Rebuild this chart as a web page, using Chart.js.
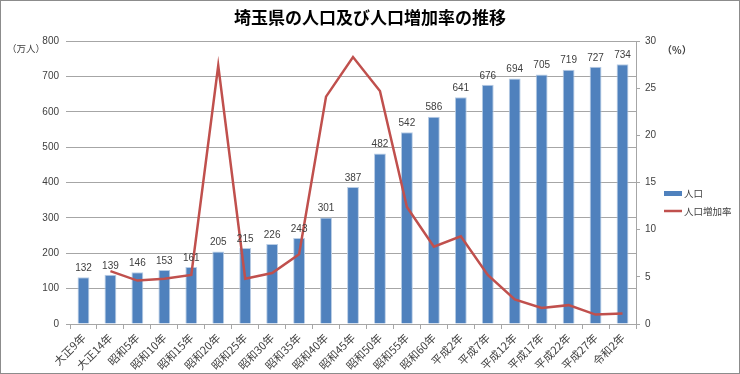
<!DOCTYPE html>
<html>
<head>
<meta charset="utf-8">
<script src="https://cdn.jsdelivr.net/npm/chart.js@4/dist/chart.umd.min.js"></script>
<style>
  html, body { margin: 0; padding: 0; background: #fff; }
  #wrap { width: 740px; height: 374px; }
</style>
</head>
<body>
<div id="wrap"><canvas id="chart" width="740" height="374"></canvas></div>
<script>
const years = ['大正9年', '大正14年', '昭和5年', '昭和10年', '昭和15年', '昭和20年', '昭和25年',
  '昭和30年', '昭和35年', '昭和40年', '昭和45年', '昭和50年', '昭和55年', '昭和60年',
  '平成2年', '平成7年', '平成12年', '平成17年', '平成22年', '平成27年', '令和2年'];
const population = [132, 139, 146, 153, 161, 205, 215, 226, 243, 301, 387, 482, 542, 586, 641, 676, 694, 705, 719, 727, 734];
const growthRate = [null, 5.6, 4.6, 4.8, 5.2, 27.4, 4.8, 5.4, 7.4, 24.1, 28.3, 24.7, 12.4, 8.2, 9.3, 5.2, 2.6, 1.7, 2.0, 1.0, 1.1];
const popTicks = [0, 800, 100];
const rateTicks = [0, 30, 5];

const FONT = "'Liberation Sans', 'Noto Sans CJK JP', sans-serif";
const JP = "'Noto Sans CJK JP', sans-serif";
const BLUE = '#4F81BD';
const RED = '#C0504D';
const GRID = '#a6a6a6';
const TEXT = '#404040';

// title, units, legend, bar value labels, outer frame
const extras = {
  id: 'extras',
  beforeDraw(chart) {
    const { ctx } = chart;
    ctx.save();
    ctx.fillStyle = '#fff';
    ctx.fillRect(0, 0, chart.width, chart.height);
    ctx.restore();
  },
  afterDatasetsDraw(chart) {
    const { ctx } = chart;
    ctx.save();
    // bar labels
    ctx.font = '10px ' + FONT;
    ctx.fillStyle = TEXT;
    ctx.textAlign = 'center';
    ctx.textBaseline = 'bottom';
    chart.getDatasetMeta(1).data.forEach((bar, i) => {
      ctx.fillText(String(population[i]), bar.x, bar.y - 4);
    });

    // title
    ctx.font = 'bold 17px ' + JP;
    ctx.fillStyle = '#000';
    ctx.textBaseline = 'middle';
    ctx.fillText('埼玉県の人口及び人口増加率の推移', 370, 18);

    // units
    ctx.font = '9.5px ' + JP;
    ctx.fillStyle = TEXT;
    ctx.textAlign = 'left';
    ctx.fillText('（万人）', 7, 48);
    ctx.font = 'bold 10px ' + JP;
    ctx.fillText('（%）', 662, 50);

    // legend
    ctx.fillStyle = BLUE;
    ctx.fillRect(664, 191, 18, 5);
    ctx.strokeStyle = RED;
    ctx.lineWidth = 2.5;
    ctx.beginPath();
    ctx.moveTo(664, 211);
    ctx.lineTo(682, 211);
    ctx.stroke();
    ctx.font = '9.5px ' + JP;
    ctx.fillStyle = TEXT;
    ctx.fillText('人口', 684, 193.5);
    ctx.fillText('人口増加率', 684, 211);

    // frame
    ctx.strokeStyle = '#8c8c8c';
    ctx.lineWidth = 1;
    ctx.strokeRect(0.5, 0.5, chart.width - 1, chart.height - 1);
    ctx.restore();
  }
};

new Chart(document.getElementById('chart'), {
  data: {
    labels: years,
    datasets: [
      {
        type: 'line', label: '人口増加率', data: growthRate, yAxisID: 'y1',
        borderColor: RED, borderWidth: 2.5, pointRadius: 0, tension: 0, spanGaps: false, order: 0
      },
      {
        type: 'bar', label: '人口', data: population, yAxisID: 'y',
        backgroundColor: BLUE, borderColor: '#b9cde5', borderWidth: 1,
        barPercentage: 0.44, categoryPercentage: 1, order: 1
      }
    ]
  },
  options: {
    responsive: false,
    animation: false,
    layout: { padding: { top: 41, right: 74, bottom: 0, left: 0 } },
    plugins: { legend: { display: false }, title: { display: false }, tooltip: { enabled: false } },
    scales: {
      x: {
        afterFit: s => { s.height = 50; },
        grid: { offset: true, drawOnChartArea: false, color: GRID, tickLength: 5 },
        border: { display: true, color: GRID },
        ticks: { color: TEXT, font: { size: 11, family: JP }, minRotation: 45, maxRotation: 45, padding: 2, autoSkip: false }
      },
      y: {
        position: 'left',
        min: popTicks[0], max: popTicks[1],
        afterFit: s => { s.width = 70; },
        grid: { color: GRID, tickLength: 4 },
        border: { display: false },
        ticks: { stepSize: popTicks[2], color: TEXT, font: { size: 10, family: FONT }, padding: 7 }
      },
      y1: {
        position: 'right',
        min: rateTicks[0], max: rateTicks[1],
        afterFit: s => { s.width = 30; },
        grid: { drawOnChartArea: false, color: GRID, tickLength: 4 },
        border: { display: true, color: GRID },
        ticks: { stepSize: rateTicks[2], color: TEXT, font: { size: 10, family: FONT }, padding: 5 }
      }
    }
  },
  plugins: [extras]
});
</script>
</body>
</html>
